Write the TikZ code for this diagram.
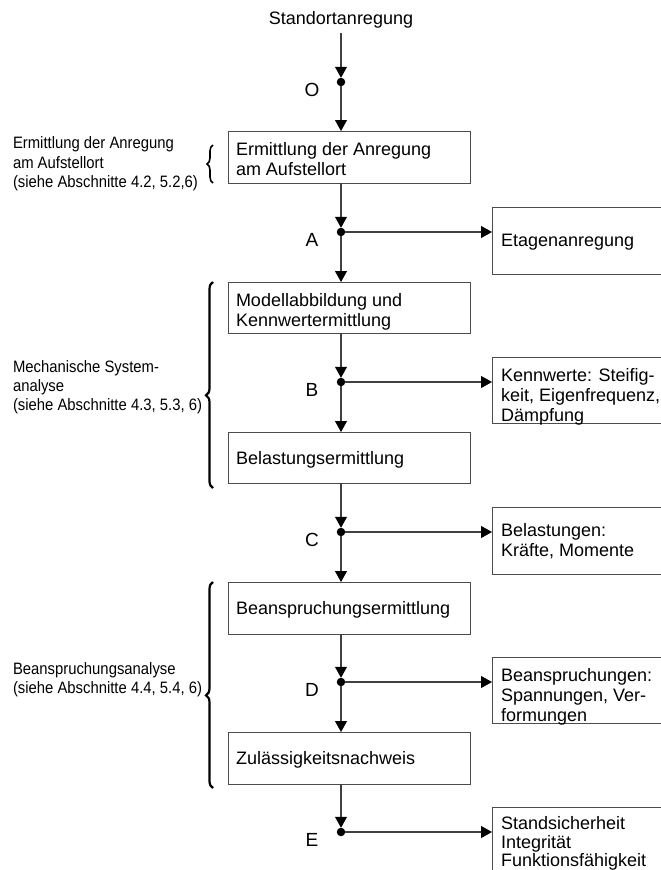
\documentclass[tikz,border=0pt]{standalone}
\usepackage{fontspec}
\setmainfont{Liberation Sans}
\newfontfamily\narrowfont[FakeStretch=0.9]{Liberation Sans}
\usetikzlibrary{arrows.meta,decorations.pathreplacing}
\begin{document}
\begin{tikzpicture}[x=1pt,y=-1pt,
  every node/.style={inner sep=0pt, outer sep=0pt},
  conn/.style={draw=black!75, line width=1.1pt},
  arr/.style={conn, -{Triangle[length=11pt,width=12pt,color=black]}},
  boxstyle/.style={draw=black!70, line width=1pt, anchor=north west, inner sep=0pt},
  mainbox/.style={boxstyle, minimum width=242pt},
  outbox/.style={boxstyle, minimum width=200pt},
  jdot/.style={circle, fill=black, minimum size=8.5pt, inner sep=0pt},
  txt/.style={anchor=base west, font=\fontsize{18}{20}\selectfont},
  sidetxt/.style={anchor=base west, font=\narrowfont\fontsize{16.5}{19}\selectfont},
  lab/.style={anchor=base, font=\fontsize{19}{20}\selectfont},
  brc/.style={decorate, decoration={brace, amplitude=7pt, aspect=#1}, line width=2.2pt, draw=black},
  brc/.default=0.5
]
\useasboundingbox (0,0) rectangle (661,870);
\clip (0,0) rectangle (661,870);

% top input
\node[anchor=base, font=\fontsize{18}{20}\selectfont] (st) at (341,24) {Standortanregung};

% junction dots
\node[jdot] (dO) at (341,82) {};
\node[jdot] (dA) at (341,232) {};
\node[jdot] (dB) at (341,382) {};
\node[jdot] (dC) at (341,532) {};
\node[jdot] (dD) at (341,682) {};
\node[jdot] (dE) at (341,832) {};

% junction labels
\node[lab] (lO) at (312,96) {O};
\node[lab] (lA) at (312,246) {A};
\node[lab] (lB) at (312,396) {B};
\node[lab] (lC) at (312,546) {C};
\node[lab] (lD) at (312,696) {D};
\node[lab] (lE) at (312,846) {E};

% main boxes
\node[mainbox, minimum height=52pt] (b1) at (228,131) {};
\node[mainbox, minimum height=51pt] (b2) at (228,282) {};
\node[mainbox, minimum height=51pt] (b3) at (228,432) {};
\node[mainbox, minimum height=52pt] (b4) at (228,582) {};
\node[mainbox, minimum height=52pt] (b5) at (228,732) {};

\node[txt] (b1a) at (236,155) {Ermittlung der Anregung};
\node[txt] (b1b) at (236,175) {am Aufstellort};
\node[txt] (b2a) at (236,306) {Modellabbildung und};
\node[txt] (b2b) at (236,326) {Kennwertermittlung};
\node[txt] (b3a) at (236,464) {Belastungsermittlung};
\node[txt] (b4a) at (236,614) {Beanspruchungsermittlung};
\node[txt] (b5a) at (236,764) {Zulässigkeitsnachweis};

% output boxes
\node[outbox, minimum height=67pt] (oA) at (492,207) {};
\node[outbox, minimum height=66pt] (oB) at (492,357) {};
\node[outbox, minimum height=67pt] (oC) at (492,507) {};
\node[outbox, minimum height=66pt] (oD) at (492,657) {};
\node[outbox, minimum height=90pt] (oE) at (492,807) {};

\node[txt] (oAa) at (501,246) {Etagenanregung};
\node[txt] (oBa) at (501,381) {Kennwerte: Steifig-};
\node[txt] (oBb) at (501,401) {keit, Eigenfrequenz,};
\node[txt] (oBc) at (501,421) {Dämpfung};
\node[txt] (oCa) at (501,536) {Belastungen:};
\node[txt] (oCb) at (501,556) {Kräfte, Momente};
\node[txt] (oDa) at (501,681) {Beanspruchungen:};
\node[txt] (oDb) at (501,701) {Spannungen, Ver-};
\node[txt] (oDc) at (501,721) {formungen};
\node[txt] (oEa) at (501,829) {Standsicherheit};
\node[txt] (oEb) at (501,848) {Integrität};
\node[txt] (oEc) at (501,866) {Funktionsfähigkeit};

% side notes
\node[sidetxt] (s1a) at (13,148) {Ermittlung der Anregung};
\node[sidetxt] (s1b) at (13,168) {am Aufstellort};
\node[sidetxt] (s1c) at (13,187) {(siehe Abschnitte 4.2, 5.2,6)};
\node[sidetxt] (s2a) at (13,372) {Mechanische System-};
\node[sidetxt] (s2b) at (13,391) {analyse};
\node[sidetxt] (s2c) at (13,410) {(siehe Abschnitte 4.3, 5.3, 6)};
\node[sidetxt] (s3a) at (13,674) {Beanspruchungsanalyse};
\node[sidetxt] (s3b) at (13,693) {(siehe Abschnitte 4.4, 5.4, 6)};

% braces
\draw[brc, line width=1.6pt, decoration={amplitude=6pt}] (213,183) -- (213,145);
\draw[brc=0.45] (213,488) -- (213,282);
\draw[brc=0.45] (213,788) -- (213,582);

% vertical flow
\draw[arr, shorten <=5pt] (st.south) -- (dO);
\draw[arr] (dO) -- (dO |- b1.north);
\draw[arr] (dA |- b1.south) -- (dA);
\draw[arr] (dA) -- (dA |- b2.north);
\draw[arr] (dB |- b2.south) -- (dB);
\draw[arr] (dB) -- (dB |- b3.north);
\draw[arr] (dC |- b3.south) -- (dC);
\draw[arr] (dC) -- (dC |- b4.north);
\draw[arr] (dD |- b4.south) -- (dD);
\draw[arr] (dD) -- (dD |- b5.north);
\draw[arr] (dE |- b5.south) -- (dE);

% outputs
\draw[arr] (dA) -- (oA.west |- dA);
\draw[arr] (dB) -- (oB.west |- dB);
\draw[arr] (dC) -- (oC.west |- dC);
\draw[arr] (dD) -- (oD.west |- dD);
\draw[arr] (dE) -- (oE.west |- dE);
\end{tikzpicture}
\end{document}
